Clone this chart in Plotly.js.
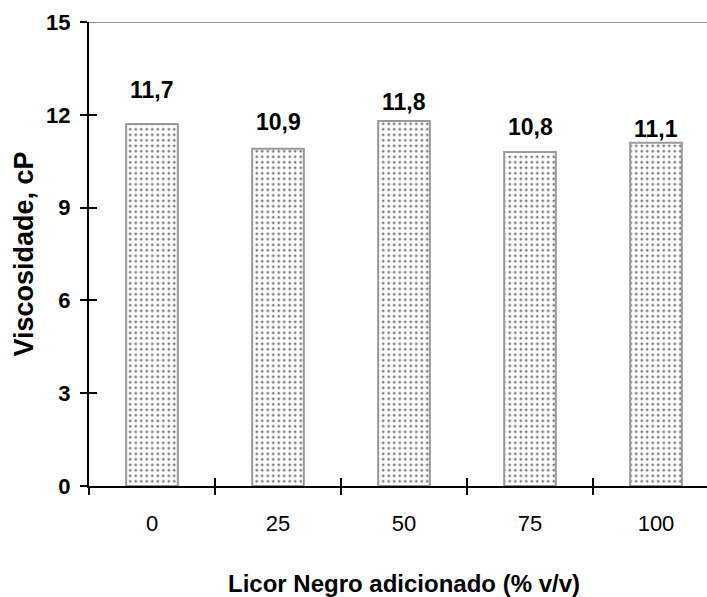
<!DOCTYPE html>
<html>
<head>
<meta charset="utf-8">
<script src="https://cdn.plot.ly/plotly-3.0.1.min.js"></script>
<style>
html,body{margin:0;padding:0;overflow:hidden;background:#fff;}
#wrap{width:707px;height:597px;overflow:hidden;}
#chart{width:730px;height:597px;}
</style>
</head>
<body>
<div id="wrap"><div id="chart"></div></div>
<script>
const categories = ["0", "25", "50", "75", "100"];
const viscosity = [11.7, 10.9, 11.8, 10.8, 11.1];
const yTicks = [0, 3, 6, 9, 12, 15];
const labelShift = [34, 27, 19, 25, 14];

const FONT = '"Liberation Sans", Arial, sans-serif';
const fmt = v => v.toFixed(1).replace('.', ',');

const bars = {
  type: 'bar',
  x: categories,
  y: viscosity,
  width: 0.41,
  marker: {
    color: '#ffffff',
    line: {color: '#999999', width: 2},
    pattern: {shape: '.', fgcolor: '#7a7a7a', bgcolor: '#ffffff', size: 5.5, solidity: 0.2}
  },
  hoverinfo: 'x+y'
};

const dummy = {type: 'scatter', x: [], y: [], xaxis: 'x2', yaxis: 'y2', hoverinfo: 'skip', showlegend: false};

const annotations = viscosity.map((v, i) => ({
  x: i, y: v, xref: 'x', yref: 'y',
  text: fmt(v), showarrow: false,
  yanchor: 'middle', yshift: labelShift[i],
  font: {family: FONT, size: 23, color: '#000', weight: 'bold'}
}));

const layout = {
  width: 730, height: 597,
  margin: {l: 89, r: 11, t: 22, b: 111},
  paper_bgcolor: '#fff', plot_bgcolor: '#fff',
  showlegend: false,
  separators: ',.',
  font: {family: FONT, color: '#000'},
  xaxis: {
    type: 'category', categoryarray: categories, range: [-0.5, 4.5],
    tickson: 'boundaries', ticks: 'outside', ticklen: 7, tickwidth: 2, tickcolor: '#000',
    showline: true, linecolor: '#000', linewidth: 2, showgrid: false, zeroline: false,
    tickfont: {family: FONT, size: 22, color: '#000'}, ticklabelstandoff: 17,
    title: {text: 'Licor Negro adicionado (% v/v)', font: {family: FONT, size: 24, color: '#000', weight: 'bold'}, standoff: 40}
  },
  yaxis: {
    range: [0, 15], tickvals: yTicks, ticktext: yTicks.map(String),
    ticks: 'outside', ticklen: 7, tickwidth: 2, tickcolor: '#000',
    showline: true, linecolor: '#000', linewidth: 2, showgrid: false, zeroline: false,
    tickfont: {family: FONT, size: 22, color: '#000', weight: 'bold'}, ticklabelstandoff: 5,
    title: {text: 'Viscosidade, cP', font: {family: FONT, size: 27, color: '#000', weight: 'bold'}, standoff: 5}
  },
  xaxis2: {
    overlaying: 'x', anchor: 'y', range: [-0.5, 4.5],
    tickvals: categories.map((_, i) => i - 0.5), ticktext: categories.map(() => ''),
    ticks: 'inside', ticklen: 8, tickwidth: 2, tickcolor: '#000',
    showline: false, showgrid: false, zeroline: false, showticklabels: false
  },
  yaxis2: {
    overlaying: 'y', anchor: 'x', side: 'left', range: [0, 15], tickvals: yTicks,
    ticks: 'inside', ticklen: 8, tickwidth: 2, tickcolor: '#000',
    showline: false, showgrid: false, zeroline: false, showticklabels: false
  },
  shapes: [{type: 'line', xref: 'paper', yref: 'y', x0: 0, x1: 1, y0: 15, y1: 15, line: {color: '#999999', width: 2}}],
  annotations: annotations
};

Plotly.newPlot('chart', [bars, dummy], layout, {displayModeBar: false, staticPlot: true});
</script>
</body>
</html>
